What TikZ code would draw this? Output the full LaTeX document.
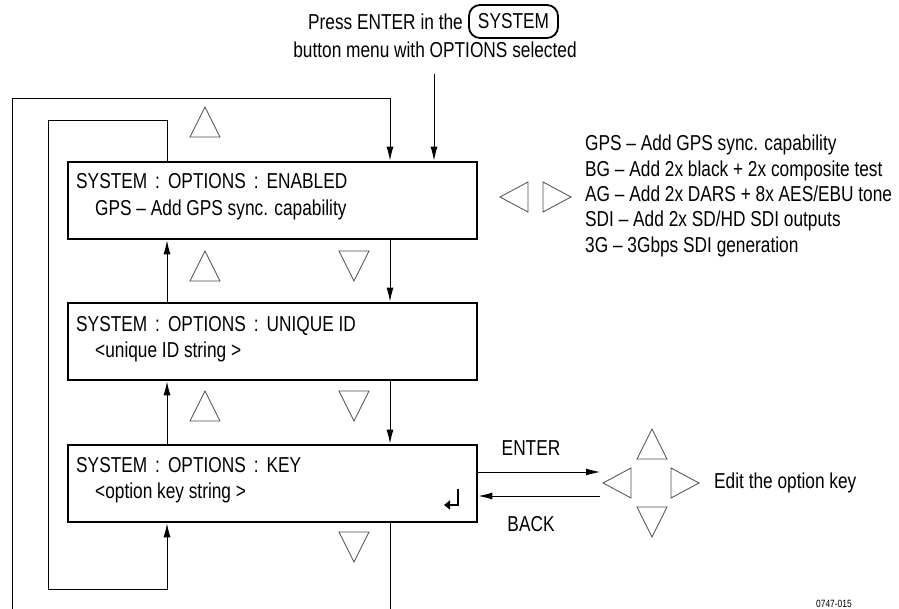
\documentclass[tikz,border=0pt]{standalone}
\usepackage{fontspec}
\setmainfont{Liberation Sans}[FakeStretch=0.80]
\usetikzlibrary{arrows.meta}
\begin{document}
\begin{tikzpicture}[x=1pt,y=-1pt,
  txt/.style={inner sep=0pt,anchor=base west,font=\fontsize{21.6}{25}\selectfont},
  ctxt/.style={inner sep=0pt,anchor=base,font=\fontsize{21.6}{25}\selectfont},
  screen/.style={draw,line width=2.6pt,minimum width=409pt,minimum height=77pt,inner sep=0pt},
  arr/.style={line width=1pt,-{Latex[length=14pt,width=7pt]}},
  ln/.style={line width=1pt},
  tri/.style={draw=black!70,line width=0.8pt,line join=miter}]
\useasboundingbox (0,0) rectangle (899,609);
\newcommand\sepc{\hspace{8pt}:\hspace{8pt}}
\newcommand\tup[2]{\draw[tri] ({#1-15},{#2+15}) -- ({#1+15},{#2+15}) -- ({#1},{#2-15}) -- cycle;}
\newcommand\tdn[2]{\draw[tri] ({#1-15},{#2-15}) -- ({#1+15},{#2-15}) -- ({#1},{#2+15}) -- cycle;}
\newcommand\tlf[2]{\draw[tri] ({#1+14},{#2-15}) -- ({#1+14},{#2+15}) -- ({#1-14},{#2}) -- cycle;}
\newcommand\trt[2]{\draw[tri] ({#1-14},{#2-15}) -- ({#1-14},{#2+15}) -- ({#1+14},{#2}) -- cycle;}

% header
\node[txt,anchor=base east] (press) at (463,30) {Press ENTER in the};
\node[draw,line width=1.8pt,rounded corners=11pt,minimum width=89pt,minimum height=33pt,inner sep=0pt,font=\fontsize{21.6}{25}\selectfont] (sys) at (513.5,21.5) {SYSTEM};
\node[ctxt] (press2) at (435,58) {button menu with OPTIONS selected};
\coordinate (e0) at (434,74);

% screens
\node[screen] (b1) at (272.5,200.5) {};
\node[screen] (b2) at (272.5,341.5) {};
\node[screen] (b3) at (272.5,483.5) {};

\node[txt] (t1a) at (76,189) {SYSTEM\sepc OPTIONS\sepc ENABLED};
\node[txt] (t1b) at (95,216) {GPS – Add GPS sync. capability};
\node[txt] (t2a) at (76,331) {SYSTEM\sepc OPTIONS\sepc UNIQUE ID};
\node[txt] (t2b) at (95,357) {<unique ID string >};
\node[txt] (t3a) at (76,472) {SYSTEM\sepc OPTIONS\sepc KEY};
\node[txt] (t3b) at (95,498) {<option key string >};

% enter symbol
\draw[line width=2.6pt,-{Triangle[length=6pt,width=9pt]}] (458,489) -- (458,505) -- (444,505);

% connector coordinates
\coordinate (dn) at (390,0);
\coordinate (up) at (167,0);
\coordinate (o0) at (12,612);
\coordinate (ot) at (12,99);
\coordinate (it) at (48,121);
\coordinate (ib) at (48,589);

\draw[arr] (e0) -- (e0 |- b1.north);
\draw[arr] (o0) -- (ot) -| (b1.north -| dn);
\draw[arr] (b1.north -| up) |- (it) -- (ib) -| (b3.south -| up);
\draw[arr] (b2.north -| up) -- (b1.south -| up);
\draw[arr] (b3.north -| up) -- (b2.south -| up);
\draw[arr] (b1.south -| dn) -- (b2.north -| dn);
\draw[arr] (b2.south -| dn) -- (b3.north -| dn);
\draw[ln] (b3.south -| dn) -- (dn |- o0);

% triangles
\tup{205}{122}
\tup{205}{266} \tdn{354}{266}
\tup{205}{406} \tdn{354}{406}
\tdn{354}{547}
\tlf{514}{197} \trt{557}{197}

% options list
\foreach \t [count=\i] in {{GPS – Add GPS sync. capability},{BG – Add 2x black + 2x composite test},{AG – Add 2x DARS + 8x AES/EBU tone},{SDI – Add 2x SD/HD SDI outputs},{3G – 3Gbps SDI generation}}
  \node[txt] (opt\i) at (585,{151+(\i-1)*25.3}) {\t};

% edit key
\coordinate (kp) at (600,0);
\draw[arr] (b3.east |- 0,472) -- (kp |- 0,472);
\draw[arr] (kp |- 0,496) -- (b3.east |- 0,496);
\node[ctxt] (enter) at (531,455) {ENTER};
\node[ctxt] (back) at (531,531) {BACK};
\tup{652}{444} \tdn{652}{522} \tlf{617}{483} \trt{685}{483}
\node[txt,anchor=west] (edit) at (714,483) {Edit the option key};
\node[txt,font=\fontsize{10.5}{12}\selectfont] (code) at (816,607) {0747-015};
\end{tikzpicture}
\end{document}
